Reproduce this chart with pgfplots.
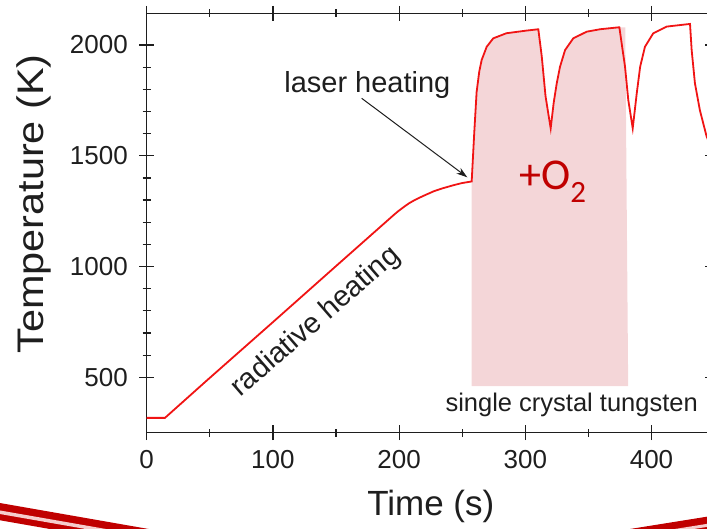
\documentclass[border=0pt]{standalone}
\usepackage{fontspec}
\setmainfont{Liberation Sans}
\newfontfamily\calibri{Carlito}
\usepackage{pgfplots}
\pgfplotsset{compat=1.18}
\usetikzlibrary{arrows.meta}
\definecolor{curvered}{RGB}{240,20,20}
\definecolor{fillpink}{RGB}{244,214,216}
\definecolor{darkred}{RGB}{192,0,0}
\definecolor{lightstripe}{RGB}{246,205,205}
\definecolor{axisgray}{RGB}{30,30,30}
\begin{document}
\begin{tikzpicture}
\useasboundingbox (-146.7pt,-95.3pt) rectangle (560.3pt,432.7pt);
\clip (-146.7pt,-95.3pt) rectangle (560.3pt,432.7pt);
\begin{axis}[
  at={(0pt,0pt)}, anchor=south west,
  scale only axis, width=565.4pt, height=419.4pt,
  xmin=0, xmax=448, ymin=250, ymax=2143,
  xtick={0,100,200,300,400}, ytick={500,1000,1500,2000},
  minor x tick num=1, minor y tick num=4,
  tick align=center, major tick length=15pt, minor tick length=8pt,
  axis line style={line width=1.2pt, axisgray},
  every tick/.style={line width=1.2pt, axisgray},
  /pgf/number format/assume math mode=true,
  /pgf/number format/set thousands separator={},
  tick label style={font=\fontsize{26}{28}\selectfont, inner sep=0pt, text=axisgray},
  xticklabel style={anchor=base, yshift=-28.1pt},
  yticklabel style={anchor=east, xshift=-11.2pt},
  xlabel={Time (s)},
  ylabel={\scalebox{1.12}[1]{Temperature (K)}},
  every axis x label/.style={at={(axis description cs:0.5025,0)}, anchor=base, yshift=-82.3pt, font=\fontsize{35}{38}\selectfont, text=axisgray},
  every axis y label/.style={at={(axis description cs:-0.1825,0.5453)}, anchor=base, rotate=90, font=\fontsize{37}{40}\selectfont, text=axisgray},
  clip=true,
]
% shaded O2 exposure region
\addplot[fill=fillpink, draw=none] coordinates {
  (257.5,460) (257.5,1384) (259.5,1600) (261.4,1787) (263.5,1880) (265.4,1932)
  (269.4,1992) (274.6,2030) (285,2053) (301,2065) (310.3,2071)
  (313,1950) (316,1770) (318.5,1680) (320.1,1624)
  (322.5,1740) (324.9,1827) (327.5,1902) (331.5,1977) (338,2030) (348.6,2060)
  (359.2,2071) (374.5,2080) (379.2,2080) (381.5,460)
} -- cycle;
% temperature trace
\addplot[curvered, line width=1.8pt] coordinates {
  (0,317) (14.5,317) (47.5,485) (100,749) (150,1002) (196,1234) (200,1253)
  (204,1270) (208,1286) (212,1299) (217,1313) (222,1326) (228,1341) (235,1354)
  (243,1367) (250,1377) (257.5,1384)
  (259.5,1600) (261.4,1787) (263.5,1880) (265.4,1932) (269.4,1992) (274.6,2030)
  (285,2053) (301,2065) (310.3,2071)
  (313,1950) (316,1770) (318.5,1680) (320.1,1624)
  (322.5,1740) (324.9,1827) (327.5,1902) (331.5,1977) (338,2030) (348.6,2060)
  (359.2,2071) (374.5,2080)
  (379,1902) (381.6,1751) (385.1,1624)
  (388.3,1782) (391,1902) (394.8,1992) (401.4,2053) (412,2083) (430.5,2095)
  (431.8,1977) (434.4,1827) (438.3,1706) (443.7,1586) (447,1545)
};
\end{axis}
% annotations
\node[anchor=base, font=\fontsize{29}{32}\selectfont, text=axisgray, inner sep=0pt] at (220.7pt,339.7pt) {laser heating};
\draw[-{Stealth[length=11pt,width=7pt]}, line width=1pt, axisgray] (215pt,334.4pt) -- (320.6pt,255.4pt);
\node[rotate=41, font=\fontsize{29}{32}\selectfont, text=axisgray, inner sep=0pt] at (169.3pt,110.7pt) {radiative heating};
\node[anchor=base, font=\fontsize{25.5}{28}\selectfont, text=axisgray, inner sep=0pt] at (425pt,21pt) {single crystal tungsten};
\node[anchor=base west, inner sep=0pt, text=darkred] at (372.3pt,242.7pt) {\calibri\fontsize{44}{48}\selectfont +O\raisebox{-12pt}{\fontsize{31}{34}\selectfont 2}};
% slide decoration swooshes
\draw[darkred, line width=17pt] (-156.7pt,-77.2pt) -- (73.3pt,-117.4pt);
\draw[lightstripe, line width=3.5pt] (-156.7pt,-77.8pt) -- (73.3pt,-118pt);
\draw[darkred, line width=16pt] (453.3pt,-109.2pt) -- (573.3pt,-90pt);
\draw[lightstripe, line width=3pt] (453.3pt,-109.8pt) -- (573.3pt,-90.6pt);
\end{tikzpicture}
\end{document}
